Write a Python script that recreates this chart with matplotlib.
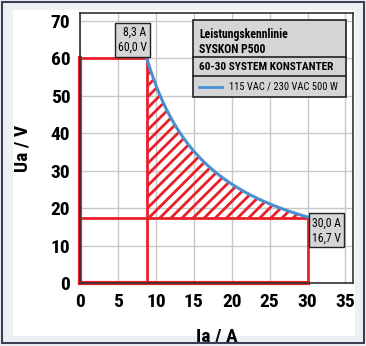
import matplotlib.pyplot as plt
import matplotlib.patches as patches
from matplotlib import font_manager
import numpy as np

# Power curve corners as drawn in the picture
i_min, u_max = 8.8, 60.0      # corner: current at max voltage
i_max, u_min = 30.0, 17.4     # corner: voltage at max current
x_ticks = [0, 5, 10, 15, 20, 25, 30, 35]
y_ticks = [0, 10, 20, 30, 40, 50, 60, 70]
label_top = ["8,3 A", "60,0 V"]
label_bottom = ["30,0 A", "16,7 V"]
legend_title = ["Leistungskennlinie", "SYSKON P500"]
legend_sub = "60-30 SYSTEM KONSTANTER"
legend_line = "115 VAC / 230 VAC 500 W"

# pick a narrow font if one is around
names = sorted({f.name for f in font_manager.fontManager.ttflist})
FONT = ["DejaVu Sans"]
for cand in ["Liberation Sans Narrow", "Roboto Condensed", "Open Sans Condensed", "Noto Sans Condensed"]:
    if cand in names:
        FONT = [cand, "DejaVu Sans"]
        break
narrow = FONT[0] != "DejaVu Sans"

RED = "#e8202a"
BLUE = "#4a90d0"
GREY = "#d3d5d7"

plt.rcParams['hatch.linewidth'] = 2.0
plt.rcParams['hatch.color'] = RED
plt.rcParams['font.family'] = FONT

fig = plt.figure(figsize=(3.66, 3.46), dpi=100)
fig.patch.set_facecolor("#eef1f4")
fig.add_artist(patches.Rectangle((0.006, 0.008), 0.988, 0.986, transform=fig.transFigure,
                                 fill=False, edgecolor="#3b4056", linewidth=1.5))
fig.add_artist(patches.Rectangle((0.035, 0.03), 0.935, 0.94, transform=fig.transFigure,
                                 facecolor="white", edgecolor="none", zorder=0))

ax = fig.add_axes([0.2186, 0.182, 0.746, 0.78])
ax.set_xlim(0, 36)
ax.set_ylim(0, 72)
ax.set_xticks(x_ticks)
ax.set_yticks(y_ticks)
ax.grid(True, color="#c8c8c8", linewidth=1)
ax.set_axisbelow(True)
ax.tick_params(length=0, pad=7)
for lab in ax.get_xticklabels() + ax.get_yticklabels():
    lab.set_fontweight("black")
    lab.set_fontsize(14)
for s in ax.spines.values():
    s.set_color("#333333")
    s.set_linewidth(1.2)

# hatched region between power curve and corner lines
power = i_min * u_max
xc = np.linspace(i_min, i_max, 200)
uc = power / xc
ax.fill_between(xc, u_min, uc, facecolor="none", hatch="///", edgecolor=RED, linewidth=0)

# red rectangles
ax.plot([0, i_min, i_min], [u_max, u_max, 0], color=RED, lw=2)
ax.plot([0, i_max, i_max], [u_min, u_min, 0], color=RED, lw=2)
ax.plot([0, i_max], [0, 0], color=RED, lw=3, clip_on=False)
ax.plot([0, 0], [0, u_max], color=RED, lw=3, clip_on=False)

# blue power curve
ax.plot(xc, uc, color=BLUE, lw=2.2)

box = dict(boxstyle="square,pad=0.25", facecolor=GREY, edgecolor="#222222", linewidth=1)
ax.annotate("\n".join(label_top), xy=(i_min, u_max), xytext=(0, 3), textcoords="offset points",
            ha="right", va="bottom", multialignment="right", fontsize=8.5,
            bbox=box, linespacing=1.2)
ax.annotate("\n".join(label_bottom), xy=(i_max, u_min), xytext=(3, 1), textcoords="offset points",
            ha="left", va="top", multialignment="right", fontsize=8.5,
            bbox=box, linespacing=1.2)

# legend box
x0, x1 = 0.414, 0.974
y_top, y_d1, y_d2, y_bot = 0.974, 0.837, 0.767, 0.689
ax.add_patch(patches.Rectangle((x0, y_bot), x1 - x0, y_top - y_bot, transform=ax.transAxes,
                               facecolor=GREY, edgecolor="#222222", linewidth=1.2, zorder=5))
for yy in (y_d1, y_d2):
    ax.plot([x0, x1], [yy, yy], transform=ax.transAxes, color="#222222", lw=1.2, zorder=6)
fs_a = 8.5 if narrow else 7
fs_b = 8.2 if narrow else 6.8
fs_c = 7.6 if narrow else 6.3
ax.text(x0 + 0.022, 0.922, legend_title[0], transform=ax.transAxes, fontsize=fs_a,
        fontweight="bold", va="center", zorder=7)
ax.text(x0 + 0.022, 0.866, legend_title[1], transform=ax.transAxes, fontsize=fs_a,
        fontweight="bold", va="center", zorder=7)
ax.text(x0 + 0.022, 0.802, legend_sub, transform=ax.transAxes, fontsize=fs_b,
        fontweight="bold", va="center", zorder=7)
ax.plot([x0 + 0.022, x0 + 0.106], [0.728, 0.728], transform=ax.transAxes, color=BLUE, lw=2, zorder=7)
ax.text(x0 + 0.132, 0.728, legend_line, transform=ax.transAxes, fontsize=fs_c,
        va="center", zorder=7)

ax.set_xlabel("Ia / A", fontweight="black", fontsize=14, labelpad=12)
ax.set_ylabel("Ua / V", fontweight="black", fontsize=14, labelpad=14)

fig.savefig("out.png", dpi=100, facecolor=fig.get_facecolor())
